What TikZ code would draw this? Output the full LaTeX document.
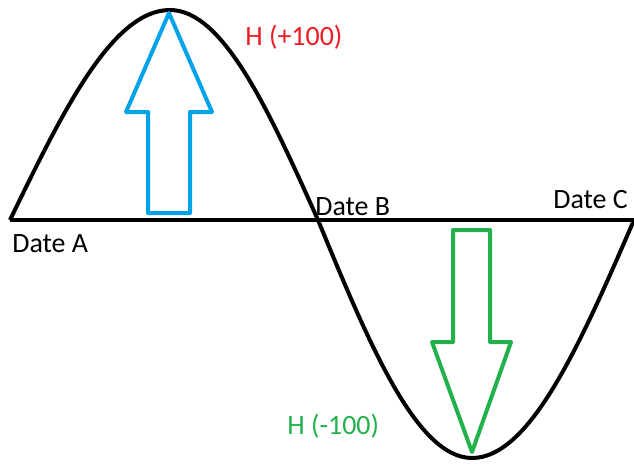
\documentclass[tikz,border=0pt]{standalone}
\usepackage{fontspec}
\setmainfont{Carlito}
\usepackage{xcolor}
\definecolor{paintblue}{HTML}{00A2E8}
\definecolor{paintgreen}{HTML}{22B14C}
\definecolor{paintred}{HTML}{ED1C24}

\begin{document}
\begin{tikzpicture}[x=0.02cm,y=-0.02cm,line join=round]
\tikzset{wave/.style={line width=0.08cm,black}}
\tikzset{bigarrow/.style={line width=0.08cm}}
\tikzset{lbl/.style={anchor=base west,inner sep=0pt,font=\fontsize{15.9}{18}\selectfont}}
\useasboundingbox (0,0) rectangle (634,463);
\coordinate (a) at (10,220);
\coordinate (top) at (170,10);
\coordinate (b) at (318,220);
\coordinate (bottom) at (472,458);
\coordinate (c) at (634,220);
% axis and wave
\draw[wave] (a) -- (c);
\draw[wave] (a) sin (top) cos (b) sin (bottom) cos (c);
% arrows
\draw[bigarrow,paintblue] (148,213) -- (148,112) -- (126,112) -- (169,13) -- (212,112) -- (190,112) -- (190,213) -- cycle;
\draw[bigarrow,paintgreen] (453,230) -- (453,342) -- (432,342) -- (472,452) -- (511,342) -- (490,342) -- (490,230) -- cycle;
% labels
\node[lbl] (dateA) at (12,252) {Date A};
\node[lbl] (dateB) at (315,215) {Date B};
\node[lbl] (dateC) at (553,208) {Date C};
\node[lbl,paintred] (hplus) at (245,45) {H (+100)};
\node[lbl,paintgreen] (hminus) at (287,434) {H (-100)};
\end{tikzpicture}
\end{document}
